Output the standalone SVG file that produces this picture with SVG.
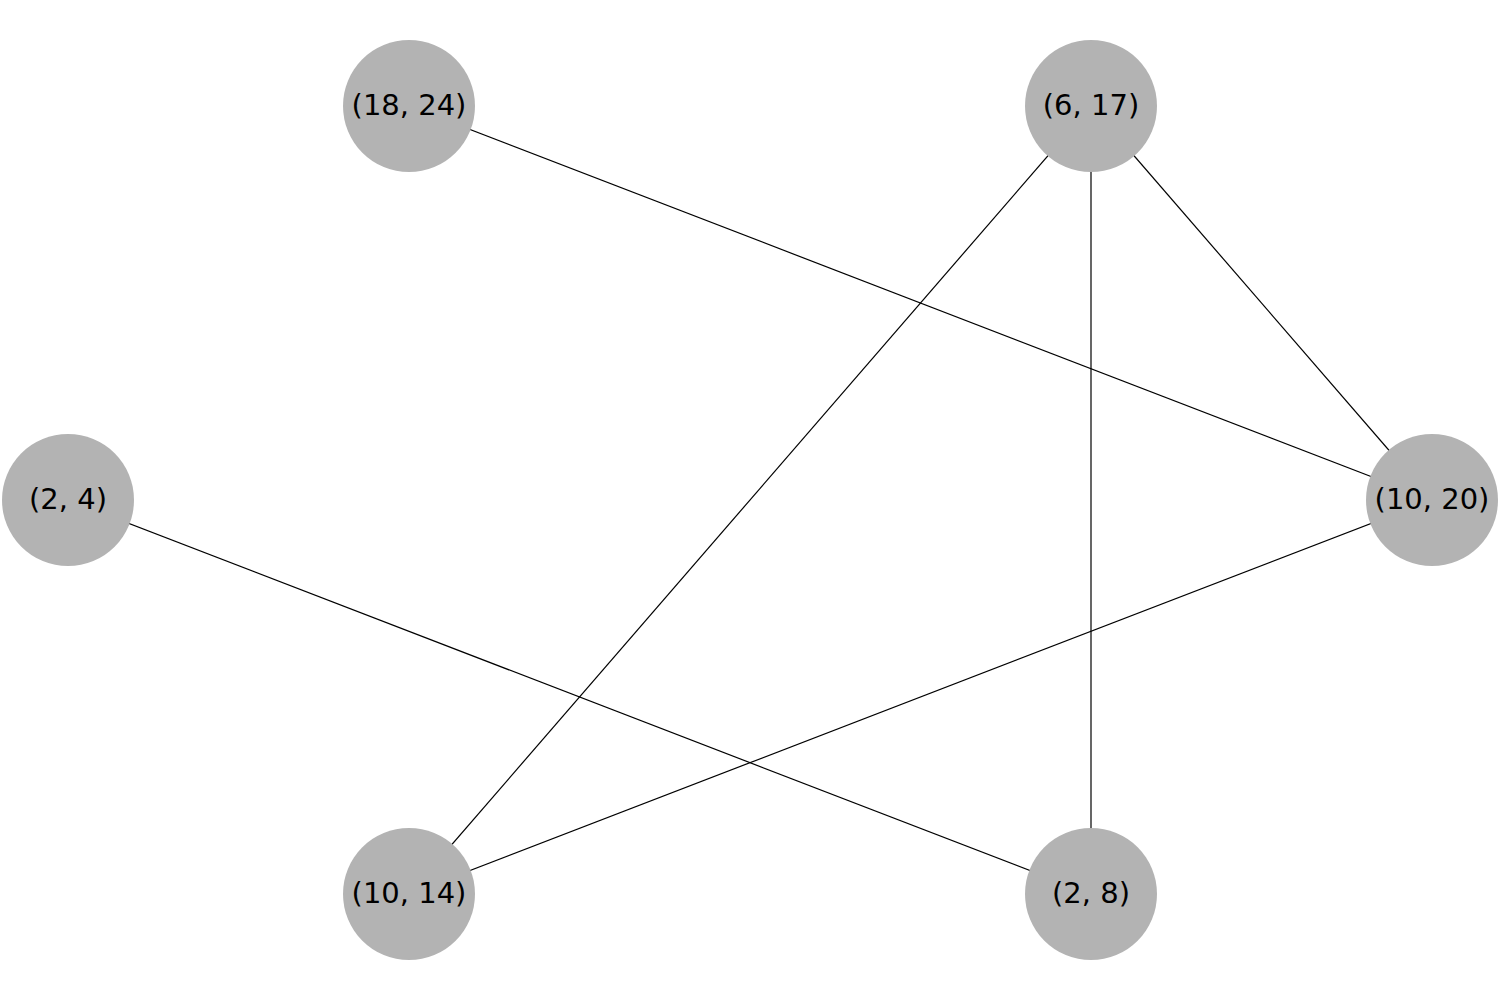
<svg xmlns="http://www.w3.org/2000/svg" width="1500" height="1000" viewBox="0 0 1500 1000">
<style>
.node circle{fill:#b3b3b3;}
.node text{font-family:"DejaVu Sans",sans-serif;font-size:29px;fill:#000;text-anchor:middle;dominant-baseline:central;}
.edges line{stroke:#000;stroke-width:1.2;}
</style>
<rect width="1500" height="1000" fill="#fff"/>
<g class="edges" id="edges">
<line x1="409" y1="106" x2="1432" y2="500"/>
<line x1="1091" y1="106" x2="409" y2="894"/>
<line x1="1091" y1="106" x2="1091" y2="894"/>
<line x1="1091" y1="106" x2="1432" y2="500"/>
<line x1="68" y1="500" x2="1091" y2="894"/>
<line x1="1432" y1="500" x2="409" y2="894"/>
</g>
<g class="node" id="n18_24"><circle cx="409" cy="106" r="66"/><text x="409" y="105">(18, 24)</text></g>
<g class="node" id="n6_17"><circle cx="1091" cy="106" r="66"/><text x="1091" y="105">(6, 17)</text></g>
<g class="node" id="n2_4"><circle cx="68" cy="500" r="66"/><text x="68" y="499">(2, 4)</text></g>
<g class="node" id="n10_20"><circle cx="1432" cy="500" r="66"/><text x="1432" y="499">(10, 20)</text></g>
<g class="node" id="n10_14"><circle cx="409" cy="894" r="66"/><text x="409" y="893">(10, 14)</text></g>
<g class="node" id="n2_8"><circle cx="1091" cy="894" r="66"/><text x="1091" y="893">(2, 8)</text></g>
</svg>
